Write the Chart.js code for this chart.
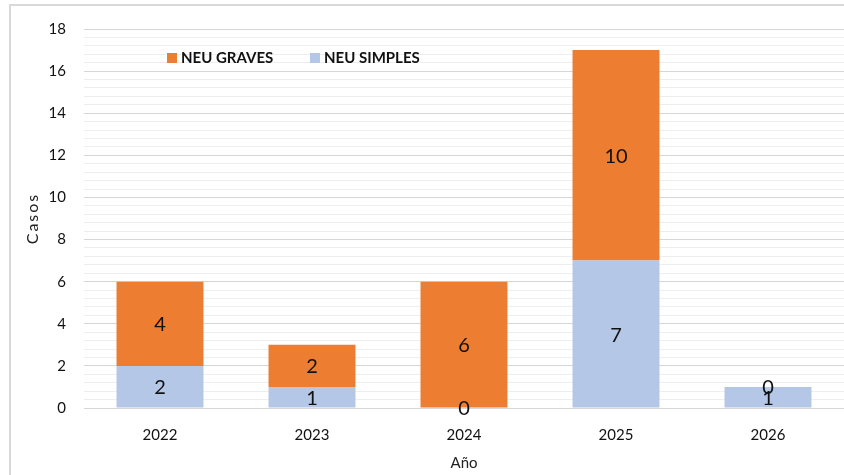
<!DOCTYPE html>
<html>
<head>
<meta charset="utf-8">
<script src="https://cdn.jsdelivr.net/npm/chart.js@4/dist/chart.umd.min.js"></script>
<style>
  html, body { margin: 0; padding: 0; background: #fff; overflow: hidden; width: 844px; height: 475px; }
  #frame { position: absolute; left: 9px; top: 4px; width: 880px; height: 520px; border: 2px solid #d9d9d9; box-sizing: border-box; }
  #wrap { position: absolute; left: 0; top: 0; width: 860px; height: 475px; }
</style>
</head>
<body>
<div id="frame"></div>
<div id="wrap"><canvas id="c" width="860" height="475"></canvas></div>
<script>
const categories = ['2022', '2023', '2024', '2025', '2026'];
const neuGraves = [4, 2, 6, 10, 0];
const neuSimples = [2, 1, 0, 7, 1];
const seriesNames = ['NEU GRAVES', 'NEU SIMPLES'];
const seriesColors = ['#ED7D31', '#B4C7E7'];
const yMax = 18;
const yMajorStep = 2;
const yMinorStep = 0.4;

const FONT = 'Lato, "Open Sans", sans-serif';

function isMajor(v) {
  const r = v / yMajorStep;
  return Math.abs(r - Math.round(r)) < 1e-6;
}

const valueLabels = {
  id: 'valueLabels',
  afterDatasetsDraw(chart) {
    const ctx = chart.ctx;
    ctx.save();
    ctx.font = '20px ' + FONT;
    ctx.fillStyle = '#111';
    ctx.textAlign = 'center';
    ctx.textBaseline = 'middle';
    chart.data.datasets.forEach((ds, i) => {
      const meta = chart.getDatasetMeta(i);
      meta.data.forEach((el, j) => {
        const y = (el.y + el.base) / 2;
        ctx.fillText(String(ds.data[j]), el.x, y + 1);
      });
    });
    ctx.restore();
  }
};

const customLegend = {
  id: 'customLegend',
  afterDraw(chart) {
    const ctx = chart.ctx;
    ctx.save();
    ctx.font = 'bold 15px ' + FONT;
    ctx.textBaseline = 'middle';
    const items = [
      { name: seriesNames[0], color: seriesColors[0], x: 167 },
      { name: seriesNames[1], color: seriesColors[1], x: 310 }
    ];
    const cy = 58;
    items.forEach(it => {
      ctx.fillStyle = it.color;
      ctx.fillRect(it.x, cy - 5, 10, 10);
      ctx.fillStyle = '#111';
      ctx.fillText(it.name, it.x + 14, cy + 0.5);
    });
    // y axis title with letter spacing
    ctx.font = '16px ' + FONT;
    try { ctx.letterSpacing = '2px'; } catch (e) {}
    ctx.translate(33, (chart.chartArea.top + chart.chartArea.bottom) / 2);
    ctx.rotate(-Math.PI / 2);
    ctx.textAlign = 'center';
    ctx.fillStyle = '#222';
    ctx.fillText('Casos', 0, 0);
    ctx.restore();
  }
};

new Chart(document.getElementById('c'), {
  type: 'bar',
  data: {
    labels: categories,
    datasets: [
      { label: seriesNames[1], data: neuSimples, backgroundColor: seriesColors[1] },
      { label: seriesNames[0], data: neuGraves, backgroundColor: seriesColors[0] }
    ]
  },
  options: {
    responsive: false,
    animation: false,
    devicePixelRatio: 1,
    layout: { padding: { left: 0, top: 29, right: 16, bottom: 0 } },
    plugins: { legend: { display: false }, tooltip: { enabled: false } },
    datasets: { bar: { barPercentage: 1, categoryPercentage: 0.572, borderWidth: 0 } },
    scales: {
      x: {
        stacked: true,
        grid: { display: false, drawTicks: false },
        border: { display: false },
        ticks: { color: '#111', font: { family: FONT, size: 15 }, padding: 18 },
        title: { display: true, text: 'Año', color: '#222', font: { family: FONT, size: 15 }, padding: { top: 0, bottom: 3 } },
        afterFit(s) { s.height = 67; }
      },
      y: {
        stacked: true,
        min: 0,
        max: yMax,
        grid: {
          drawTicks: false,
          color: ctx => (ctx.tick && isMajor(ctx.tick.value)) ? '#d6d6d6' : '#eeeeee',
          lineWidth: 1
        },
        border: { display: false },
        ticks: {
          stepSize: yMinorStep,
          autoSkip: false,
          padding: 18,
          color: '#111',
          font: { family: FONT, size: 15 },
          callback: v => isMajor(v) ? String(Math.round(v)) : ''
        },
        afterFit(s) { s.width = 84; }
      }
    }
  },
  plugins: [valueLabels, customLegend]
});
</script>
</body>
</html>
